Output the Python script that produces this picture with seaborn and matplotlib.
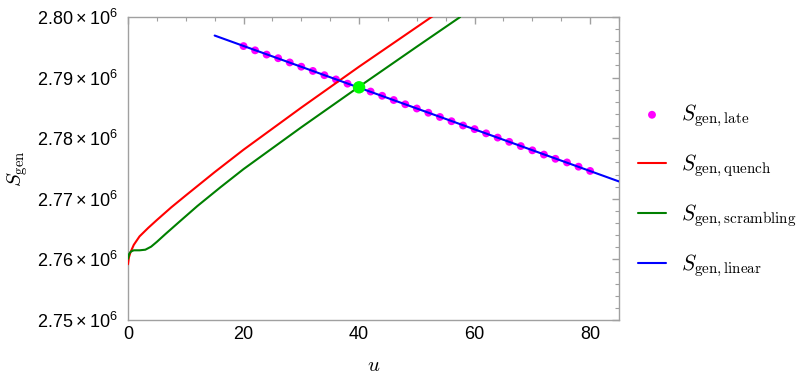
import numpy as np
import pandas as pd
import seaborn as sns
import matplotlib.pyplot as plt
import matplotlib.ticker as mticker

# data (S values in units of 10^6)
u_quench = [0, 0.15, 0.4, 1, 2, 3.5, 5, 7.5, 10, 15, 20, 30, 40, 53]
s_quench = [2.7592, 2.7603, 2.7611, 2.7624, 2.7638, 2.7652, 2.7665, 2.7686,
            2.77055, 2.7744, 2.7781, 2.78505, 2.7918, 2.8003]

u_scramb = [0, 0.2, 0.5, 1, 2, 3, 4, 5, 6.5, 9, 12, 16, 20, 30, 40, 50, 57.5]
s_scramb = [2.7601, 2.7609, 2.7613, 2.7615, 2.7615, 2.7616, 2.7621, 2.7629,
            2.7642, 2.7663, 2.7688, 2.7719, 2.7749, 2.7818, 2.7885, 2.7951,
            2.8000]

u_linear = [15, 85]
s_linear = [2.79694, 2.77286]

u_late = [20, 22, 24, 26, 28, 30, 32, 34, 36, 38, 40, 42, 44, 46, 48, 50,
          52, 54, 56, 58, 60, 62, 64, 66, 68, 70, 72, 74, 76, 78, 80]
s_late = [2.7952, 2.7945, 2.7938, 2.7932, 2.7925, 2.7918, 2.7911, 2.7904,
          2.7897, 2.7890, 2.7883, 2.7877, 2.7870, 2.7863, 2.7856, 2.7849,
          2.7842, 2.7835, 2.7828, 2.7821, 2.7815, 2.7808, 2.7801, 2.7794,
          2.7787, 2.7780, 2.7773, 2.7766, 2.7760, 2.7753, 2.7746]

u_cross = [40]
s_cross = [2.7884]

scale = 1e6

sns.set_style('white')
plt.rcParams['font.family'] = ['Liberation Sans', 'DejaVu Sans']
plt.rcParams['mathtext.fontset'] = 'custom'
plt.rcParams['mathtext.rm'] = 'Liberation Sans'
plt.rcParams['mathtext.it'] = 'Liberation Sans:italic'
plt.rcParams['text.color'] = 'black'
plt.rcParams['axes.labelcolor'] = 'black'

fig = plt.figure(figsize=(8.03, 3.84), dpi=100)
ax = fig.add_axes([128 / 803, 1 - 320 / 384, (619 - 128) / 803, (320 - 17) / 384])

sns.scatterplot(x=u_late, y=np.array(s_late) * scale, color='#ff00ff', s=32,
                edgecolor='none', ax=ax, label=r'$S_{\rm gen,late}$', zorder=2)
sns.lineplot(x=u_quench, y=np.array(s_quench) * scale, color='#ff0000', lw=1.5,
             sort=False, ax=ax, label=r'$S_{\rm gen,quench}$', zorder=3)
sns.lineplot(x=u_scramb, y=np.array(s_scramb) * scale, color='#008000', lw=1.5,
             sort=False, ax=ax, label=r'$S_{\rm gen,scrambling}$', zorder=3)
sns.lineplot(x=u_linear, y=np.array(s_linear) * scale, color='#0000ff', lw=1.5,
             ax=ax, label=r'$S_{\rm gen,linear}$', zorder=4)
sns.scatterplot(x=u_cross, y=np.array(s_cross) * scale, color='#00ff00', s=80,
                edgecolor='none', ax=ax, zorder=5)

ax.set_xlim(0, 85)
ax.set_ylim(2.75e6, 2.80e6)

ax.xaxis.set_major_locator(mticker.MultipleLocator(20))
ax.xaxis.set_minor_locator(mticker.MultipleLocator(5))
ax.yaxis.set_major_locator(mticker.MultipleLocator(0.01e6))
ax.yaxis.set_minor_locator(mticker.MultipleLocator(0.002e6))
ax.yaxis.set_major_formatter(mticker.FuncFormatter(
    lambda v, p: f'{v / 1e6:.2f}\u2009×\u200910$^{{6}}$'))

for sp in ax.spines.values():
    sp.set_color('#a0a0a0')
    sp.set_linewidth(1.0)
ax.tick_params(which='both', direction='in', color='#a0a0a0',
               top=True, right=True, labelsize=13, labelcolor='black')
ax.tick_params(which='major', length=5, width=1)
ax.tick_params(which='minor', length=3, width=0.8)
ax.tick_params(axis='y', pad=7)
ax.tick_params(axis='x', pad=4)

ax.set_xlabel(r'$u$', fontsize=15, math_fontfamily='cm')
ax.set_ylabel(r'$S_{\rm gen}$', fontsize=15, math_fontfamily='cm')
ax.yaxis.set_label_coords(-0.2, 0.5)
ax.xaxis.set_label_coords(0.5, -0.12)

leg = ax.legend(loc='center left', bbox_to_anchor=(638 / 803, 1 - 191 / 384),
                bbox_transform=fig.transFigure, frameon=False, fontsize=15.5,
                borderpad=0, borderaxespad=0, handlelength=1.3,
                handletextpad=0.7, labelspacing=1.1, scatterpoints=1)
for t in leg.get_texts():
    t.set_math_fontfamily('cm')

fig.savefig('out.png', dpi=100)
